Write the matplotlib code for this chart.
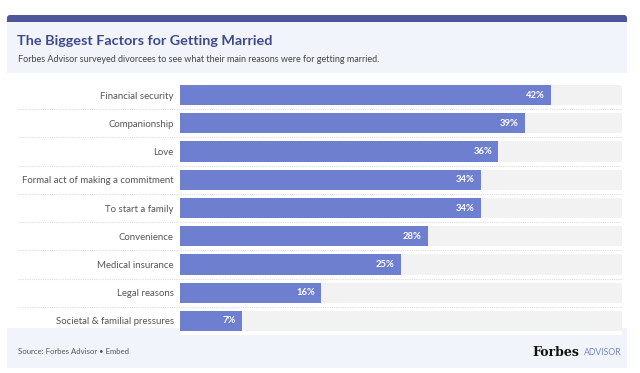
import matplotlib.pyplot as plt
from matplotlib.patches import FancyBboxPatch, Rectangle

factors = [
    "Financial security",
    "Companionship",
    "Love",
    "Formal act of making a commitment",
    "To start a family",
    "Convenience",
    "Medical insurance",
    "Legal reasons",
    "Societal & familial pressures",
]
shares = [42, 39, 36, 34, 34, 28, 25, 16, 7]

W, H = 640, 373
plt.rcParams["font.family"] = ["Lato", "DejaVu Sans"]

fig = plt.figure(figsize=(W / 100, H / 100), dpi=100)
fig.patch.set_facecolor("white")

# background layer in pixel coords
bg = fig.add_axes([0, 0, 1, 1])
bg.set_xlim(0, W)
bg.set_ylim(H, 0)
bg.axis("off")

bg.add_patch(FancyBboxPatch((7, 15), 620, 12, boxstyle="round,pad=0,rounding_size=3",
                            facecolor="#4b5798", edgecolor="none"))
bg.add_patch(Rectangle((7, 22), 620, 51, facecolor="#f1f4fa", edgecolor="none"))
bg.add_patch(Rectangle((7, 328), 620, 40, facecolor="#f1f4fa", edgecolor="none"))

bg.text(17, 41, "The Biggest Factors for Getting Married", fontsize=10.4, fontweight="bold",
        color="#3f4a8a", va="center", ha="left")
bg.text(18, 60, "Forbes Advisor surveyed divorcees to see what their main reasons were for getting married.",
        fontsize=6.5, color="#444444", va="center", ha="left")
bg.text(18, 352, "Source: Forbes Advisor \u2022 Embed", fontsize=5.6, color="#555555",
        va="center", ha="left")
bg.text(579, 352, "Forbes", fontsize=9, fontweight="bold", family="DejaVu Serif",
        color="#111111", va="center", ha="right")
bg.text(622, 352.5, "ADVISOR", fontsize=6.3, color="#7a8ab8", va="center", ha="right")

# bar chart
ax = fig.add_axes([180 / W, 1 - 335 / H, 442 / W, 254 / H])
y = list(range(len(factors)))
ax.barh(y, [50] * len(factors), height=0.72, color="#f2f2f2")
ax.barh(y, shares, height=0.72, color="#6f7fcf")
for yi, v in zip(y, shares):
    ax.text(v - 0.7, yi, f"{v}%", color="white", fontsize=6.8, fontweight="bold",
            ha="right", va="center")
for yi in y[:-1]:
    ax.axhline(yi + 0.5, xmin=-0.367, xmax=1, color="#dddddd", lw=0.8,
               linestyle=(0, (1, 1)), clip_on=False)

ax.set_xlim(0, 50)
ax.set_ylim(len(factors) - 0.5, -0.5)
ax.set_yticks(y)
ax.set_yticklabels(factors, fontsize=6.95, color="#555555")
ax.tick_params(axis="y", length=0, pad=4.5)
ax.set_xticks([])
for s in ax.spines.values():
    s.set_visible(False)

fig.savefig("out.png", dpi=100)
